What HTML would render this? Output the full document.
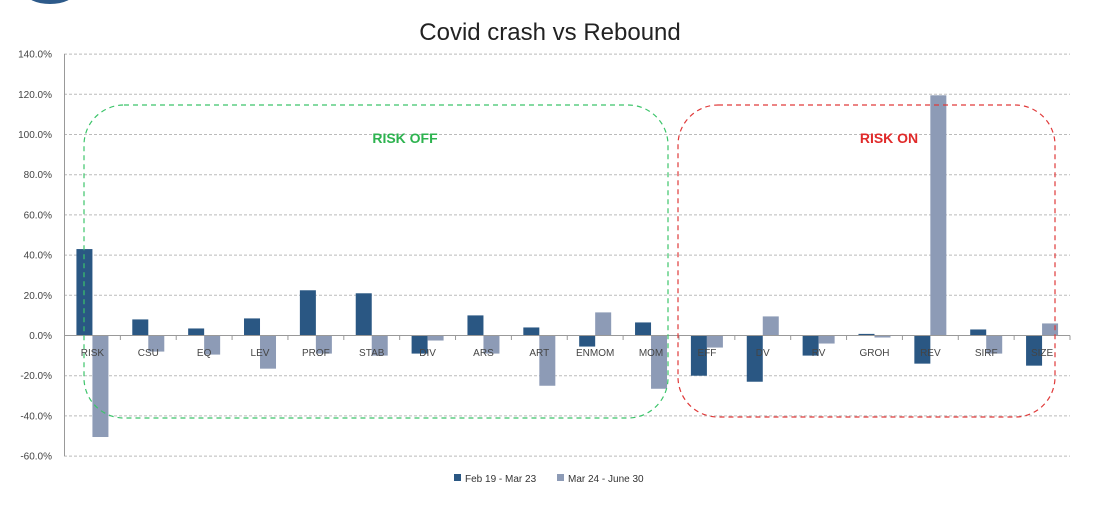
<!DOCTYPE html>
<html><head><style>body{margin:0;background:#fff}svg{display:block}</style></head><body>
<svg width="1100" height="509" xmlns="http://www.w3.org/2000/svg" font-family="Liberation Sans, sans-serif">
<ellipse cx="50" cy="-8" rx="25" ry="12" fill="#2d5a8a"/>
<text x="550" y="40" text-anchor="middle" font-size="24" fill="#222">Covid crash vs Rebound</text>
<g id="grid" stroke="#bbb" stroke-dasharray="3,2" stroke-width="1"></g>
<g id="labels" font-size="10" fill="#444" text-anchor="end"></g>
<line x1="64.5" y1="54" x2="64.5" y2="456" stroke="#999"/>
<g id="bars"></g>
<line x1="64.5" y1="335.5" x2="1070" y2="335.5" stroke="#999"/>
<g id="ticks" stroke="#999"></g>
<g id="cats" font-size="10" fill="#444" text-anchor="middle"></g>
<rect x="84" y="105" width="584" height="313" rx="40" fill="none" stroke="#3cc46a" stroke-dasharray="5,4" stroke-width="1.2"/>
<rect x="678" y="105" width="377" height="312" rx="40" fill="none" stroke="#e03a3a" stroke-dasharray="5,4" stroke-width="1.2"/>
<text x="405" y="143" text-anchor="middle" font-size="14" font-weight="bold" fill="#2db34f">RISK OFF</text>
<text x="889" y="143" text-anchor="middle" font-size="14" font-weight="bold" fill="#e02a2a">RISK ON</text>
<rect x="454" y="474" width="7" height="7" fill="#2a5783"/>
<text x="465" y="482" font-size="10" fill="#333">Feb 19 - Mar 23</text>
<rect x="557" y="474" width="7" height="7" fill="#8d9bb6"/>
<text x="568" y="482" font-size="10" fill="#333">Mar 24 - June 30</text>
</svg>
<script>
var ns="http://www.w3.org/2000/svg";
function el(p,t,a,txt){var e=document.createElementNS(ns,t);for(var k in a)e.setAttribute(k,a[k]);if(txt)e.textContent=txt;document.getElementById(p).appendChild(e);}
var y0=335.5,s=2.01;
for(var k=0;k<=10;k++){var v=140-20*k,y=y0-v*s;if(v!=0)el("grid","line",{x1:64,x2:1070,y1:y,y2:y});el("labels","text",{x:52,y:y+3.5},v.toFixed(1)+"%");}
var d=[["RISK",43,-50.5],["CSU",8,-8],["EQ",3.5,-9.5],["LEV",8.5,-16.5],["PROF",22.5,-9],["STAB",21,-10],["DIV",-9,-2.5],["ARS",10,-9],["ART",4,-25],["ENMOM",-5.5,11.5],["MOM",6.5,-26.5],["EFF",-20,-6],["DV",-23,9.5],["RV",-10,-4],["GROH",0.8,-1],["REV",-14,119.5],["SIRF",3,-9],["SIZE",-15,6]];
var x0=64.5,w=(1070-64.5)/18;
d.forEach(function(r,i){var c=x0+w*(i+0.5);
[[r[1],"#2a5783",c-16],[r[2],"#8d9bb6",c]].forEach(function(b){var h=Math.abs(b[0])*s;el("bars","rect",{x:b[2],y:b[0]>0?y0-h:y0,width:16,height:h,fill:b[1]});});
el("cats","text",{x:c,y:356},r[0]);
el("ticks","line",{x1:x0+w*(i+1),x2:x0+w*(i+1),y1:335.5,y2:340});});
</script>
</body></html>
